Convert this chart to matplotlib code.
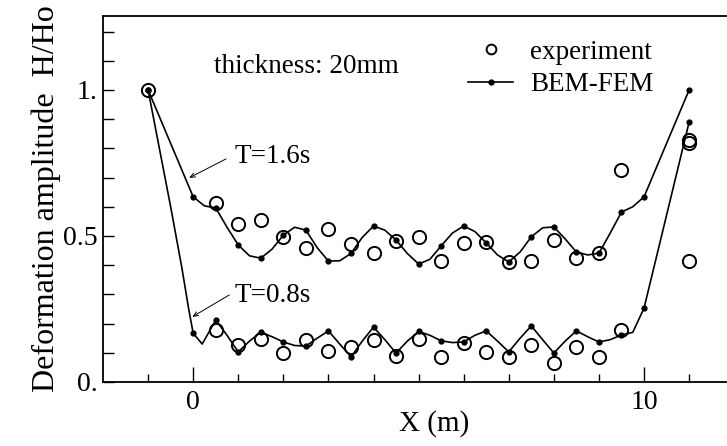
import numpy as np
import matplotlib
matplotlib.use("Agg")
import matplotlib.pyplot as plt
from matplotlib.lines import Line2D

plt.rcParams['font.family'] = ['Liberation Serif', 'DejaVu Serif']

# BEM-FEM curves
x_16 = [-1.0, 0.0, 0.25, 0.5, 0.75, 1.0, 1.25, 1.5, 1.75, 2.0, 2.25, 2.5, 2.75, 3.0,
        3.25, 3.5, 3.75, 4.0, 4.25, 4.5, 4.75, 5.0, 5.25, 5.5, 5.75, 6.0, 6.25, 6.5,
        6.75, 7.0, 7.25, 7.5, 7.75, 8.0, 8.25, 8.5, 8.75, 9.0, 9.25, 9.5, 9.75, 10.0, 11.0]
y_16 = [1.0, 0.634, 0.603, 0.596, 0.53, 0.469, 0.432, 0.424, 0.455, 0.503, 0.53, 0.52,
        0.46, 0.414, 0.415, 0.44, 0.495, 0.534, 0.52, 0.486, 0.44, 0.404, 0.42, 0.466,
        0.51, 0.534, 0.515, 0.476, 0.435, 0.411, 0.445, 0.497, 0.528, 0.531, 0.49,
        0.445, 0.435, 0.441, 0.51, 0.582, 0.60, 0.634, 1.0]

x_08 = [-1.0, -0.5, -0.25, -0.1, 0.0, 0.2, 0.5, 0.75, 1.0, 1.25, 1.5, 1.75, 2.0, 2.25,
        2.5, 2.75, 3.0, 3.25, 3.5, 3.75, 4.0, 4.25, 4.5, 4.75, 5.0, 5.25, 5.5, 5.75,
        6.0, 6.25, 6.5, 6.75, 7.0, 7.25, 7.5, 7.75, 8.0, 8.25, 8.5, 8.75, 9.0, 9.25,
        9.5, 9.75, 10.0, 11.0]
y_08 = [1.0, 0.60, 0.39, 0.25, 0.167, 0.13, 0.212, 0.16, 0.103, 0.14, 0.171, 0.155,
        0.137, 0.125, 0.123, 0.15, 0.175, 0.13, 0.086, 0.14, 0.188, 0.145, 0.099,
        0.14, 0.173, 0.16, 0.141, 0.135, 0.137, 0.16, 0.175, 0.14, 0.103, 0.15, 0.192,
        0.145, 0.099, 0.14, 0.175, 0.155, 0.137, 0.145, 0.161, 0.17, 0.253, 0.89]

# experiment
ex_16 = [-1.0, 0.5, 1.0, 1.5, 2.0, 2.5, 3.0, 3.5, 4.0, 4.5, 5.0, 5.5, 6.0, 6.5, 7.0,
         7.5, 8.0, 8.5, 9.0, 9.5, 11.0, 11.0]
ey_16 = [1.0, 0.613, 0.541, 0.555, 0.495, 0.458, 0.523, 0.472, 0.441, 0.483, 0.497,
         0.415, 0.476, 0.48, 0.41, 0.415, 0.486, 0.424, 0.441, 0.726, 0.415, 0.83]
ex_08 = [0.5, 1.0, 1.5, 2.0, 2.5, 3.0, 3.5, 4.0, 4.5, 5.0, 5.5, 6.0, 6.5, 7.0, 7.5,
         8.0, 8.5, 9.0, 9.5, 11.0]
ey_08 = [0.178, 0.127, 0.147, 0.1, 0.144, 0.106, 0.12, 0.144, 0.089, 0.147, 0.086,
         0.134, 0.103, 0.086, 0.127, 0.065, 0.12, 0.086, 0.178, 0.82]

fig = plt.figure(figsize=(7.27, 4.46), dpi=100)
ax = fig.add_axes([0.1417, 0.1435, 0.8583, 0.8205])

# solution markers every 0.5 m on the plate, plus both end points
def mark_mask(xs):
    return [(0 <= v <= 10 and abs(v * 2 - round(v * 2)) < 1e-6) or v in (-1.0, 11.0)
            for v in xs]

for xs, ys in [(x_16, y_16), (x_08, y_08)]:
    ax.plot(xs, ys, color='black', lw=1.2, marker='o', markersize=3.5,
            markevery=mark_mask(xs))

ax.plot(ex_16 + ex_08, ey_16 + ey_08, linestyle='none', marker='o', markersize=9.5,
        markerfacecolor='none', markeredgecolor='black', markeredgewidth=1.4)

ax.set_xlim(-2, 11.84)
ax.set_ylim(0, 1.253)
ax.set_xticks([0, 10])
ax.set_xticklabels(['0', '10'])
ax.set_xticks(np.arange(-1, 12, 1), minor=True)
ax.set_yticks([0, 0.5, 1.0])
ax.set_yticklabels(['0.', '0.5', '1.'])
ax.set_yticks(np.arange(0.1, 1.25, 0.1), minor=True)
ax.tick_params(axis='both', which='both', direction='in', labelsize=20, width=1.0)
ax.tick_params(axis='y', which='both', length=8, pad=4)
ax.tick_params(axis='x', which='major', length=11, pad=6)
ax.tick_params(axis='x', which='minor', length=6)
ax.spines['right'].set_visible(False)
for s in ['left', 'bottom', 'top']:
    ax.spines[s].set_linewidth(1.3)

ax.set_xlabel('X (m)', fontsize=21)
ax.xaxis.set_label_coords(0.53, -0.076)
ax.set_ylabel('Deformation amplitude  H/Ho', fontsize=23)
ax.yaxis.set_label_coords(-0.068, 0.5)

ax.text(0.47, 1.058, 'thickness: 20mm', fontsize=19.5, va='baseline')

arrow = dict(arrowstyle='->,head_length=0.35,head_width=0.15', lw=0.7, color='black',
             shrinkA=0, shrinkB=0)
ax.text(0.91, 0.75, 'T=1.6s', fontsize=19.5, va='baseline')
ax.annotate('', xy=(-0.09, 0.699), xytext=(0.73, 0.764), arrowprops=arrow)
ax.text(0.91, 0.274, 'T=0.8s', fontsize=19.5, va='baseline')
ax.annotate('', xy=(-0.02, 0.223), xytext=(0.8, 0.298), arrowprops=arrow)

handles = [Line2D([], [], linestyle='none', marker='o', markersize=7, markerfacecolor='none',
                  markeredgecolor='black', markeredgewidth=1.4),
           Line2D([], [], color='black', lw=1.2, marker='o', markersize=3.5)]
ax.legend(handles, ['experiment', 'BEM-FEM'], loc='upper left', bbox_to_anchor=(0.585, 0.935),
          frameon=False, fontsize=19.5, handlelength=1.67, handletextpad=0.63,
          labelspacing=0.27, borderpad=0, borderaxespad=0)

fig.savefig('out.png', dpi=100)
